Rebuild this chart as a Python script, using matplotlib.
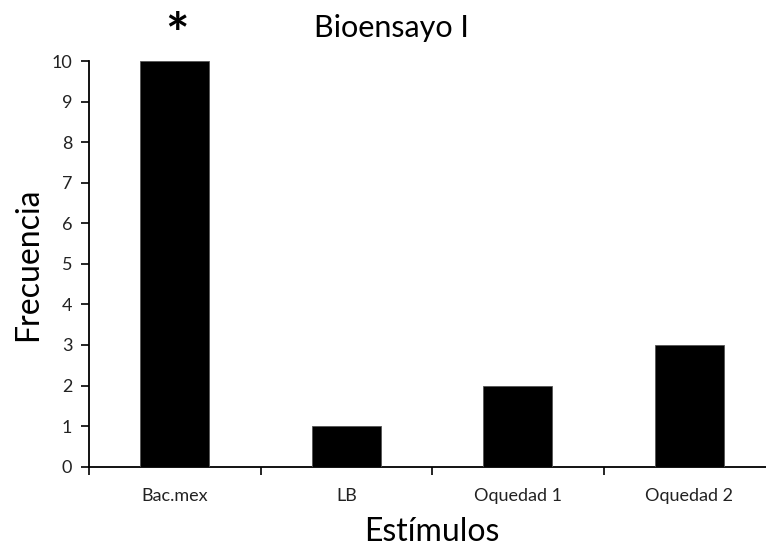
import matplotlib
matplotlib.use("Agg")
import matplotlib.pyplot as plt

categories = ["Bac.mex", "LB", "Oquedad 1", "Oquedad 2"]
values = [10, 1, 2, 3]
yticks = list(range(0, 11))

plt.rcParams['font.family'] = ['Lato', 'DejaVu Sans']

W, H = 766, 548
fig = plt.figure(figsize=(W/100, H/100), dpi=100)
ax = fig.add_axes([89/W, (H-466.7)/H, (775-89)/W, (466.7-61)/H])

x = list(range(len(categories)))
ax.bar(x, values, width=0.4, color='black', edgecolor='#555555', linewidth=0.6, zorder=3)
ax.set_xlim(-0.5, len(categories) - 0.5)
ax.set_ylim(0, 10)
ax.set_yticks(yticks)
ax.set_yticklabels([str(t) for t in yticks], fontsize=13, color='#222222')
ax.set_xticks([i - 0.5 for i in range(len(categories) + 1)])
ax.set_xticklabels([])
ax.set_xticks(x, minor=True)
ax.set_xticklabels(categories, minor=True, fontsize=13, color='#222222')
ax.tick_params(axis='x', which='minor', length=0, pad=15)
ax.tick_params(axis='x', which='major', length=6, width=1.2, direction='out')
ax.tick_params(axis='y', length=6, width=1.2, direction='out', pad=6)
for s in ['top', 'right']:
    ax.spines[s].set_visible(False)
for s in ['left', 'bottom']:
    ax.spines[s].set_linewidth(1.3)

ax.set_ylabel("Frecuencia", fontsize=23, labelpad=6)
ax.set_xlabel("Estímulos", fontsize=23, labelpad=10)

fig.text(391/W, 1 - 28/H, "Bioensayo I", fontsize=22, ha='center', va='center')
fig.text(177/W, 1 - 37/H, "*", fontsize=40, ha='center', va='center', fontweight='bold')

fig.savefig("out.png", dpi=100)
